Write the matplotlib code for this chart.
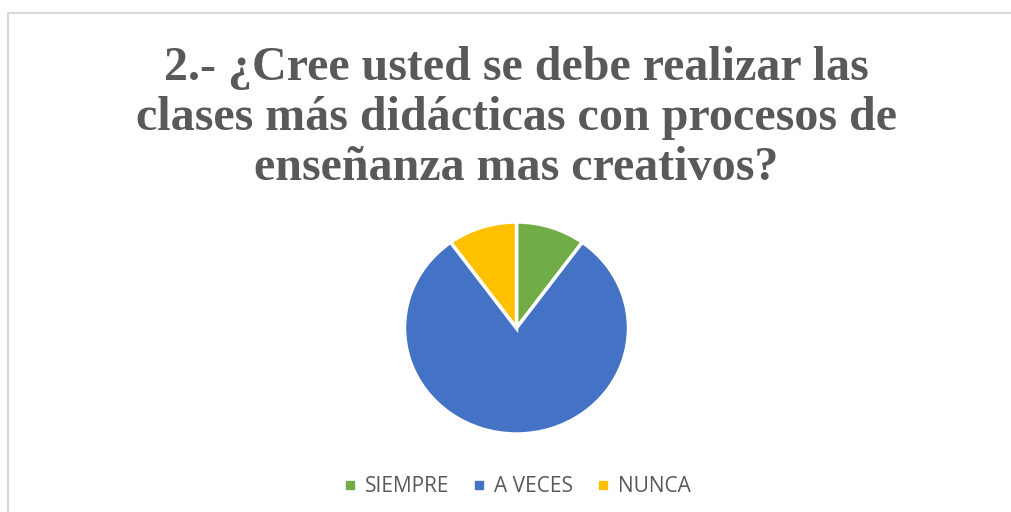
import matplotlib.pyplot as plt
from matplotlib.patches import Rectangle
from matplotlib.lines import Line2D

# datos del gráfico
categorias = ["SIEMPRE", "A VECES", "NUNCA"]
valores = [10, 80, 10]
colores = ["#70AD47", "#4472C4", "#FFC000"]
titulo = "2.- ¿Cree usted se debe realizar las\nclases más didácticas con procesos de\nenseñanza mas creativos?"

W, H = 1011, 512
fig = plt.figure(figsize=(W / 100, H / 100), dpi=100)

# borde del área del gráfico (se sale por la derecha y por abajo)
fig.patches.append(Rectangle((8 / W, -0.1), 1.2, 1 - 13 / H + 0.1,
                             transform=fig.transFigure, fill=False,
                             edgecolor="#D9D9D9", linewidth=1.5))

# título
fig.text(0.511, 1 - 118 / H, titulo, ha="center", va="center",
         family="Liberation Serif", fontweight="bold", fontsize=34.6,
         color="#595959", linespacing=1.18)

# pastel (un poco más ancho que alto, como en el original)
cx, cy, rx, ry = 516.5, 328, 112, 106
ax = fig.add_axes([(cx - rx) / W, 1 - (cy + ry) / H, 2 * rx / W, 2 * ry / H])
ax.pie(valores, colors=colores, startangle=90, counterclock=False,
       wedgeprops=dict(edgecolor="white", linewidth=2.5))
ax.set_xlim(-1.0, 1.0)
ax.set_ylim(-1.0, 1.0)
ax.set_aspect("auto")
ax.axis("off")

# leyenda
handles = [Line2D([], [], marker="s", linestyle="", markersize=6,
                  markerfacecolor=c, markeredgecolor=c) for c in colores]
fig.legend(handles, categorias, loc="center", bbox_to_anchor=(0.511, 1 - 487 / H),
           ncol=3, frameon=False, handlelength=0.7, handletextpad=0.35,
           columnspacing=1.1, prop=dict(family="Open Sans", size=15),
           labelcolor="#595959")

fig.savefig("out.png", dpi=100)
